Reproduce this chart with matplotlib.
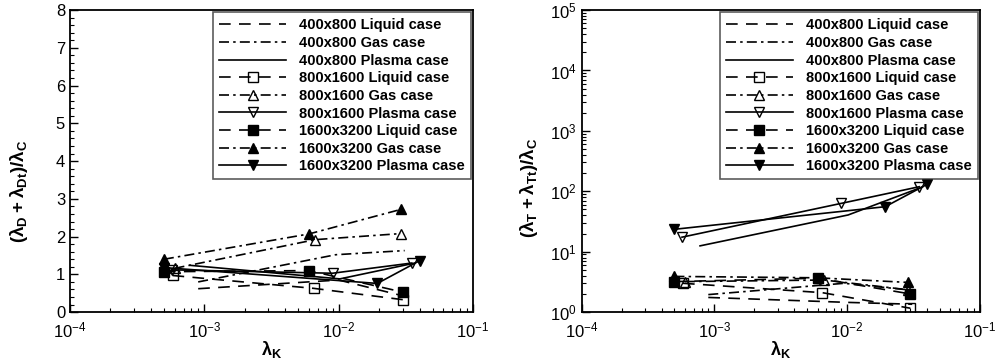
import matplotlib
matplotlib.use("Agg")
import matplotlib.pyplot as plt
from matplotlib.ticker import LogLocator, MultipleLocator, NullFormatter, FixedLocator

plt.rcParams['font.family'] = ['Liberation Sans', 'DejaVu Sans']
plt.rcParams['mathtext.default'] = 'regular'

# lambda_K values (x) per grid / case
x_400_liq = [9.0e-4, 1.0e-2, 3.1e-2]
x_400_gas = [9.0e-4, 9.5e-3, 3.1e-2]
x_400_pla = [7.8e-4, 1.02e-2, 3.7e-2]
x_800_liq = [5.8e-4, 6.5e-3, 3.0e-2]
x_800_gas = [6.0e-4, 6.7e-3, 2.9e-2]
x_800_pla = [5.7e-4, 9.0e-3, 3.5e-2]
x_1600_liq = [5.0e-4, 6.0e-3, 3.0e-2]
x_1600_gas = [5.0e-4, 6.0e-3, 2.9e-2]
x_1600_pla = [5.0e-4, 1.94e-2, 4.0e-2]

# (lambda_D + lambda_Dt)/lambda_C
D_400_liq = [0.62, 0.85, 0.42]
D_400_gas = [0.80, 1.52, 1.63]
D_400_pla = [1.24, 0.88, 1.30]
D_800_liq = [0.97, 0.63, 0.33]
D_800_gas = [1.16, 1.92, 2.08]
D_800_pla = [1.12, 1.03, 1.30]
D_1600_liq = [1.07, 1.10, 0.53]
D_1600_gas = [1.40, 2.07, 2.72]
D_1600_pla = [1.18, 0.76, 1.36]

# (lambda_T + lambda_Tt)/lambda_C
T_400_liq = [1.75, 1.45, 1.35]
T_400_gas = [1.95, 3.0, 2.3]
T_400_pla = [12.5, 40.6, 118]
T_800_liq = [3.0, 2.1, 1.16]
T_800_gas = [3.2, 3.4, 2.34]
T_800_pla = [17.4, 63, 119]
T_1600_liq = [3.2, 3.65, 2.0]
T_1600_gas = [3.9, 3.7, 3.1]
T_1600_pla = [23.5, 55.6, 130]

labels = ["400x800 Liquid case", "400x800 Gas case", "400x800 Plasma case",
          "800x1600 Liquid case", "800x1600 Gas case", "800x1600 Plasma case",
          "1600x3200 Liquid case", "1600x3200 Gas case", "1600x3200 Plasma case"]

xs = [x_400_liq, x_400_gas, x_400_pla, x_800_liq, x_800_gas, x_800_pla,
      x_1600_liq, x_1600_gas, x_1600_pla]
Ds = [D_400_liq, D_400_gas, D_400_pla, D_800_liq, D_800_gas, D_800_pla,
      D_1600_liq, D_1600_gas, D_1600_pla]
Ts = [T_400_liq, T_400_gas, T_400_pla, T_800_liq, T_800_gas, T_800_pla,
      T_1600_liq, T_1600_gas, T_1600_pla]

dash = (0, (7, 5))
dashdot = (0, (6, 2.5, 1.5, 2.5))
styles = [
    dict(ls=dash, marker=None),
    dict(ls=dashdot, marker=None),
    dict(ls='-', marker=None),
    dict(ls=dash, marker='s', mfc='none'),
    dict(ls=dashdot, marker='^', mfc='none'),
    dict(ls='-', marker='v', mfc='none'),
    dict(ls=dash, marker='s', mfc='black'),
    dict(ls=dashdot, marker='^', mfc='black'),
    dict(ls='-', marker='v', mfc='black'),
]

fig = plt.figure(figsize=(10, 3.6), dpi=100)
ax1 = fig.add_axes([0.070, 0.133, 0.403, 0.839])
ax2 = fig.add_axes([0.5817, 0.133, 0.398, 0.839])

for ax, ys in ((ax1, Ds), (ax2, Ts)):
    for x, y, st, lab in zip(xs, ys, styles, labels):
        kw = dict(color='black', lw=1.2, ms=6.5, mec='black', mew=1.0, label=lab)
        if st['marker']:
            kw['marker'] = st['marker']
            kw['mfc'] = st['mfc']
        ax.plot(x, y, linestyle=st['ls'], **kw)
    ax.set_xscale('log')
    ax.set_xlim(1e-4, 1e-1)
    ax.xaxis.set_major_locator(FixedLocator([1e-4, 1e-3, 1e-2, 1e-1]))
    ax.xaxis.set_minor_locator(LogLocator(base=10, subs=range(2, 10), numticks=20))
    ax.xaxis.set_minor_formatter(NullFormatter())
    ax.tick_params(which='both', direction='in', top=False, right=False, labelsize=12)
    ax.tick_params(axis='x', which='major', pad=6)
    ax.tick_params(which='major', length=6, width=1)
    ax.tick_params(which='minor', length=3, width=0.8)
    for sp in ax.spines.values():
        sp.set_linewidth(1.3)
    ax.set_xlabel(r'$\lambda_{K}$', fontsize=13, fontweight='bold', labelpad=-1)
    leg = ax.legend(loc='upper right', bbox_to_anchor=(0.995, 0.992), borderaxespad=0,
                    prop=dict(family='Liberation Sans', weight='bold', size=10.5),
                    handlelength=4.6, handletextpad=0.9, labelspacing=0.25,
                    frameon=True, fancybox=False, borderpad=0.4)
    leg.get_frame().set_edgecolor('#333333')
    leg.get_frame().set_linewidth(1.2)

ax1.set_ylim(0, 8)
ax1.yaxis.set_major_locator(MultipleLocator(1))
ax1.yaxis.set_minor_locator(MultipleLocator(0.2))
ax1.set_ylabel(r'$(\lambda_{D}+\lambda_{Dt})/\lambda_{C}$', fontsize=13.5, fontweight='bold')
ax1.yaxis.set_label_coords(-0.10, 0.40)

ax2.set_yscale('log')
ax2.set_ylim(1, 1e5)
ax2.yaxis.set_major_locator(LogLocator(base=10, numticks=10))
ax2.yaxis.set_minor_locator(LogLocator(base=10, subs=range(2, 10), numticks=20))
ax2.yaxis.set_minor_formatter(NullFormatter())
ax2.set_ylabel(r'$(\lambda_{T}+\lambda_{Tt})/\lambda_{C}$', fontsize=13.5, fontweight='bold')
ax2.yaxis.set_label_coords(-0.105, 0.41)

fig.savefig('out.png', dpi=100)
